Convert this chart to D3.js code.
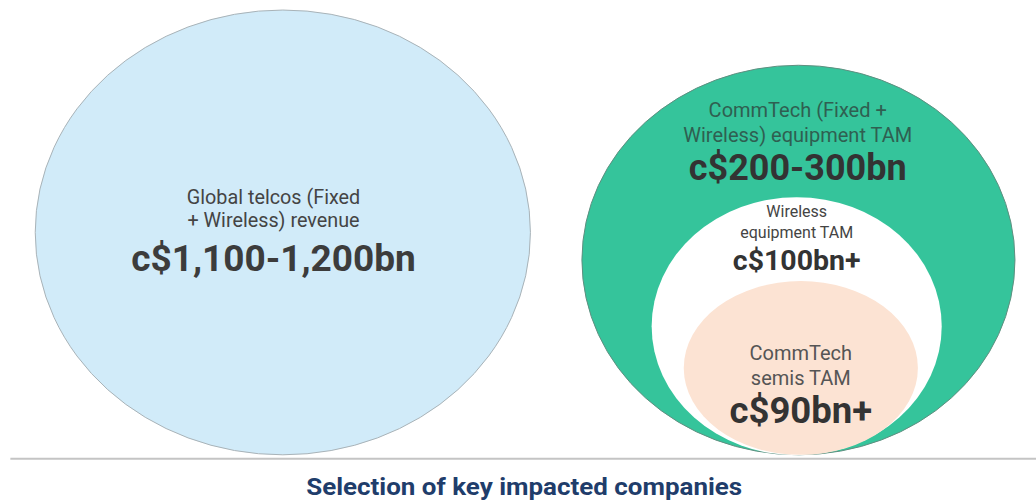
<!DOCTYPE html>
<html>
<head>
<meta charset="utf-8">
<script src="https://cdn.jsdelivr.net/npm/d3@7"></script>
<style>
  html, body { margin: 0; padding: 0; background: #fff; }
  svg { display: block; font-family: Roboto, "Noto Sans", sans-serif; }
</style>
</head>
<body>
<div id="chart"></div>
<script>
(function() {
    'use strict';

    // Market sizes (labels as shown on the chart)
    var names = ['telcos', 'commtech', 'wireless', 'semis'];
    var labels = [
        ['Global telcos (Fixed', '+ Wireless) revenue'],
        ['CommTech (Fixed +', 'Wireless) equipment TAM'],
        ['Wireless', 'equipment TAM'],
        ['CommTech', 'semis TAM']
    ];
    var values = ['c$1,100-1,200bn', 'c$200-300bn', 'c$100bn+', 'c$90bn+'];
    var fills = ['#d1ebf9', '#35c49b', '#ffffff', '#fce3d3'];
    var title = 'Selection of key impacted companies';

    var width = 1036, height = 502;

    // layout in a 0..100 unit box, mapped to pixels by scales
    var x = d3.scaleLinear().domain([0, 100]).range([0, width]);
    var y = d3.scaleLinear().domain([0, 100]).range([0, height]);

    // ellipse geometry per bubble: cx, cy, rx, ry (units)
    var layout = {
        telcos:   { cx: 27.3, cy: 46.3, rx: 23.9, ry: 44.3, stroke: '#a9b3b8' },
        commtech: { cx: 77.07, cy: 51.8, rx: 20.9, ry: 38.8, stroke: '#5f8f80' },
        wireless: { cx: 76.9, cy: 65.0, rx: 14.0, ry: 25.7, stroke: 'none' },
        semis:    { cx: 77.3, cy: 73.3, rx: 11.3, ry: 17.3, stroke: 'none' }
    };

    // text rows: [line1 y, line2 y, value y] (units), font sizes and colour
    var textLayout = {
        telcos:   { cx: 26.4, rows: [39.2, 43.8, 51.4], fs: 19.8, vfs: 37, col: '#444', vcol: '#3c3c3c' },
        commtech: { cx: 77.0, rows: [21.9, 26.9, 33.3], fs: 20, vfs: 36, col: '#2f5f51', vcol: '#333' },
        wireless: { cx: 76.9, rows: [42.2, 46.2, 51.8], fs: 16, vfs: 28.5, col: '#444', vcol: '#333' },
        semis:    { cx: 77.3, rows: [70.3, 75.3, 81.7], fs: 20, vfs: 36.5, col: '#555', vcol: '#333' }
    };

    var svg = d3.select('#chart').append('svg')
        .attr('width', width)
        .attr('height', height)
        .attr('viewBox', [0, 0, width, height].join(' '));

    var bubbles = names.map(function(n, i) {
        return { name: n, lines: labels[i], value: values[i], fill: fills[i],
                 geo: layout[n], txt: textLayout[n] };
    });

    svg.selectAll('ellipse.bubble')
        .data(bubbles)
        .join('ellipse')
        .attr('class', 'bubble')
        .attr('cx', function(d) { return x(d.geo.cx); })
        .attr('cy', function(d) { return y(d.geo.cy); })
        .attr('rx', function(d) { return x(d.geo.rx); })
        .attr('ry', function(d) { return y(d.geo.ry); })
        .attr('fill', function(d) { return d.fill; })
        .attr('stroke', function(d) { return d.geo.stroke; })
        .attr('stroke-width', 1);

    var g = svg.selectAll('g.label')
        .data(bubbles)
        .join('g')
        .attr('class', 'label')
        .attr('text-anchor', 'middle');

    g.each(function(d) {
        var sel = d3.select(this);
        d.lines.forEach(function(line, k) {
            sel.append('text')
                .attr('x', x(d.txt.cx))
                .attr('y', y(d.txt.rows[k]))
                .attr('dy', '0.35em')
                .attr('font-size', d.txt.fs)
                .attr('fill', d.txt.col)
                .text(line);
        });
        sel.append('text')
            .attr('x', x(d.txt.cx))
            .attr('y', y(d.txt.rows[2]))
            .attr('dy', '0.35em')
            .attr('font-size', d.txt.vfs)
            .attr('font-weight', 700)
            .attr('fill', d.txt.vcol)
            .text(d.value);
    });

    // baseline
    svg.append('line')
        .attr('x1', x(1.0)).attr('x2', width)
        .attr('y1', y(91.4)).attr('y2', y(91.4))
        .attr('stroke', '#c4c4c4')
        .attr('stroke-width', 2);

    // footer title
    svg.append('text')
        .attr('x', x(50.6))
        .attr('y', y(97.0))
        .attr('dy', '0.35em')
        .attr('text-anchor', 'middle')
        .attr('font-size', 23)
        .attr('font-weight', 700)
        .attr('fill', '#1f3d6b')
        .attr('textLength', 436)
        .attr('lengthAdjust', 'spacingAndGlyphs')
        .text(title);
})();
</script>
</body>
</html>
